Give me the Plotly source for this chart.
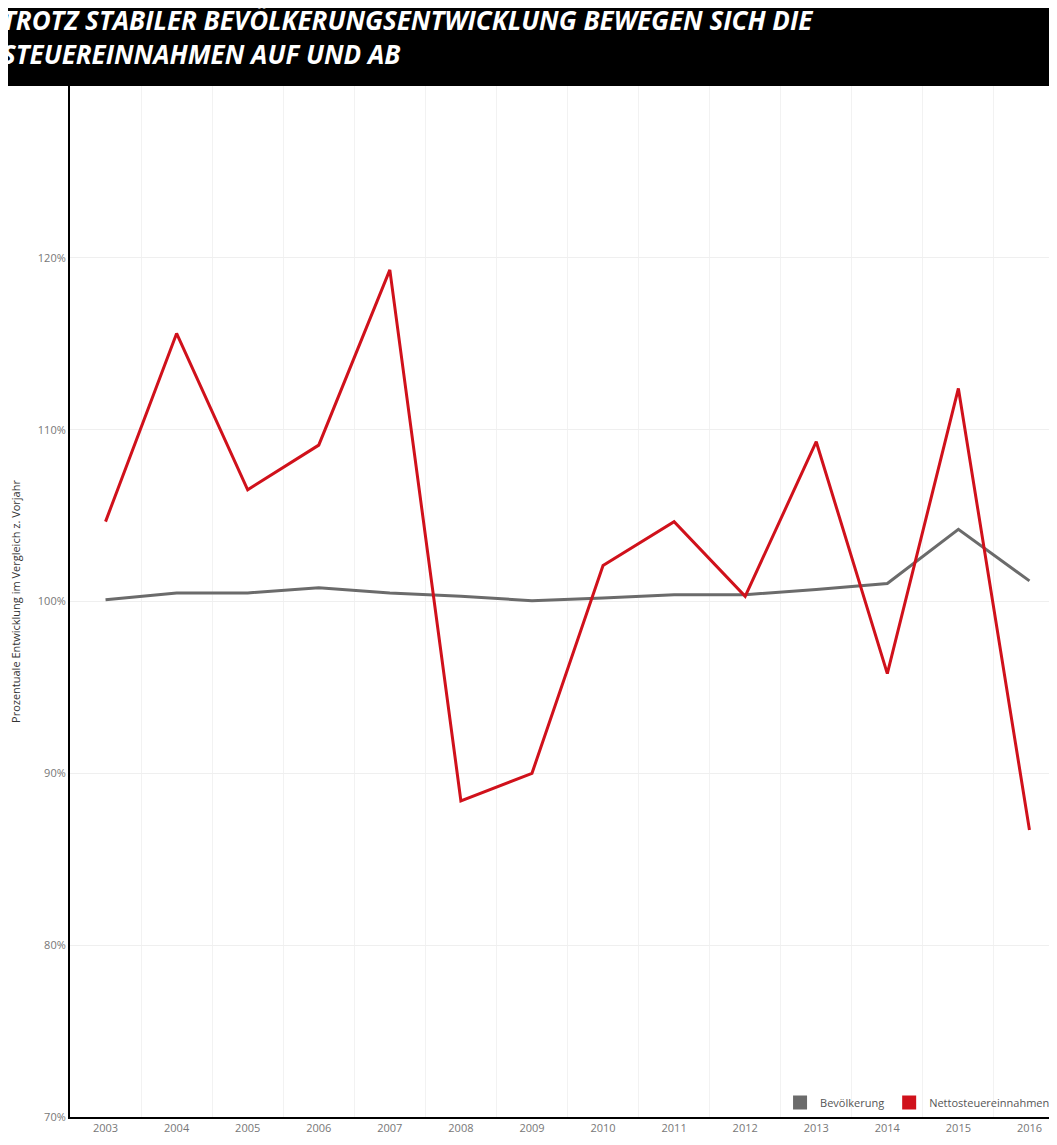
import plotly.graph_objects as go

years = list(range(2003, 2017))
bevoelkerung = [100.1, 100.5, 100.5, 100.8, 100.5, 100.3, 100.05, 100.2, 100.4, 100.4, 100.7, 101.05, 104.2, 101.2]
steuern = [104.65, 115.6, 106.5, 109.1, 119.3, 88.4, 90.0, 102.1, 104.65, 100.3, 109.3, 95.8, 112.4, 86.7]

grey = "#6b6b6b"
red = "#d0111b"

fig = go.Figure()
fig.add_trace(go.Scatter(x=years, y=bevoelkerung, mode="lines", line=dict(color=grey, width=3), showlegend=False))
fig.add_trace(go.Scatter(x=years, y=steuern, mode="lines", line=dict(color=red, width=3), showlegend=False))
# legend entries with square swatches
fig.add_trace(go.Scatter(x=[None], y=[None], mode="markers", name="Bevölkerung",
                         marker=dict(symbol="square", size=14, color=grey)))
fig.add_trace(go.Scatter(x=[None], y=[None], mode="markers", name="Nettosteuereinnahmen",
                         marker=dict(symbol="square", size=14, color=red)))

fig.add_shape(type="rect", xref="paper", yref="paper", x0=-0.1, x1=1.05, y0=1.0, y1=1.12,
              fillcolor="black", line_width=0, layer="above")
fig.add_annotation(xref="paper", yref="paper", x=-0.07, y=1.083, xanchor="left", yanchor="top",
                   align="left", showarrow=False,
                   text="<b><i>TROTZ STABILER BEVÖLKERUNGSENTWICKLUNG BEWEGEN SICH DIE<br>STEUEREINNAHMEN AUF UND AB</i></b>",
                   font=dict(family="Open Sans", size=26, color="white"))

fig.update_layout(
    width=1057, height=1145,
    margin=dict(l=62, r=0, t=78, b=36),
    plot_bgcolor="white", paper_bgcolor="white",
    font=dict(family="Open Sans", size=11, color="#777777"),
    legend=dict(orientation="h", x=0.99, y=0.0, xanchor="right", yanchor="bottom",
                font=dict(size=11, color="#555555"), bgcolor="rgba(0,0,0,0)"),
    xaxis=dict(range=[2002.5, 2016.5], tickvals=years, showgrid=False,
               showline=True, linecolor="black", linewidth=2, ticks="",
               minor=dict(tickvals=[y + 0.5 for y in years[:-1]], showgrid=True, gridcolor="#f2f2f2")),
    yaxis=dict(range=[70, 130], tickvals=[70, 80, 90, 100, 110, 120],
               ticktext=["70%", "80%", "90%", "100%", "110%", "120%"],
               showgrid=True, gridcolor="#efefef", zeroline=False,
               showline=True, linecolor="black", linewidth=2,
               title=dict(text="Prozentuale Entwicklung im Vergleich z. Vorjahr",
                          font=dict(size=11, color="#333333"), standoff=18)),
)

fig.write_html("out.html")
